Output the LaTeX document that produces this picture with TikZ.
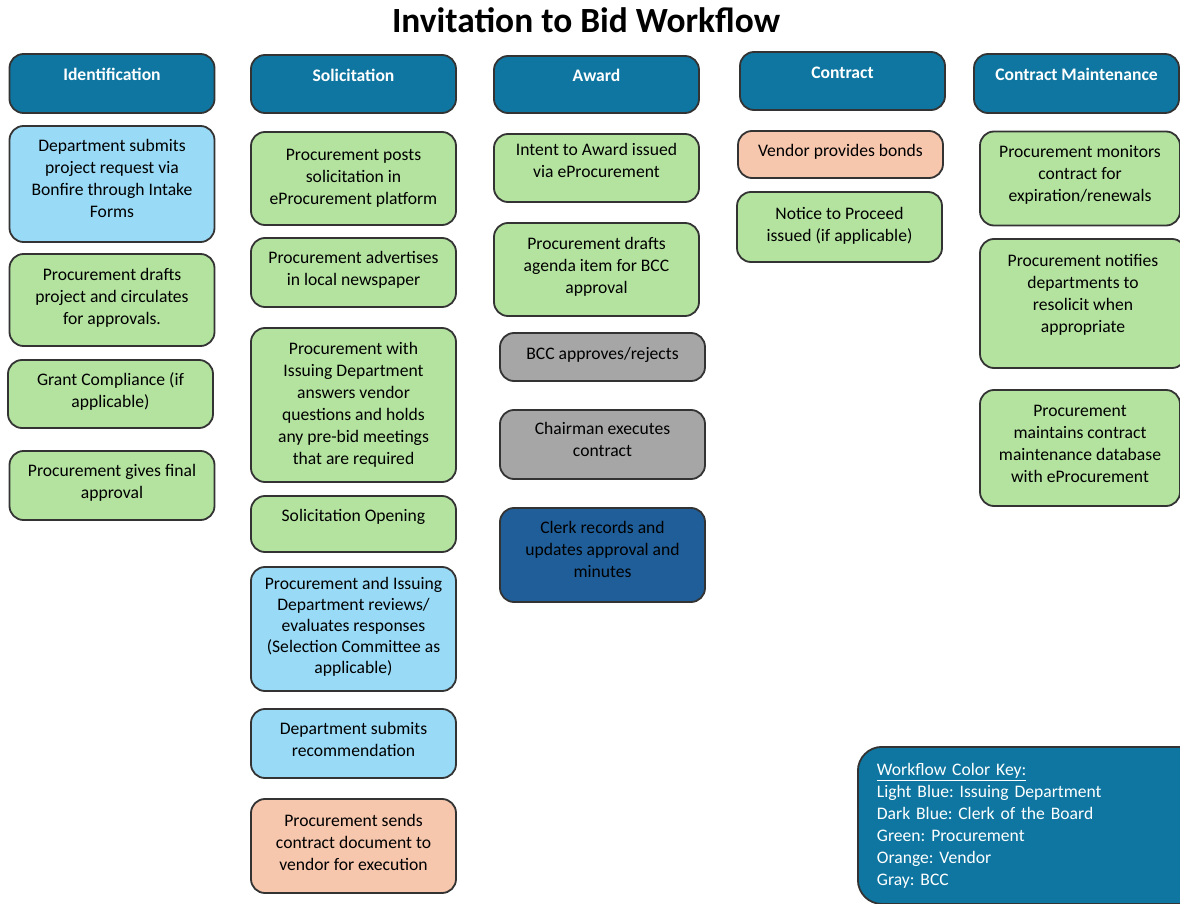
\documentclass[tikz,border=0pt]{standalone}
\usepackage{fontspec}
\setmainfont{Carlito}
\usepackage{tikz}

\definecolor{hdrblue}{RGB}{14,118,160}
\definecolor{issuing}{RGB}{153,218,246}
\definecolor{procure}{RGB}{180,227,160}
\definecolor{vendor}{RGB}{246,198,173}
\definecolor{bcc}{RGB}{166,166,166}
\definecolor{clerk}{RGB}{31,94,153}
\definecolor{edge}{RGB}{51,51,51}

\tikzset{
  stepbox/.style={draw=edge, line width=0.9pt, rounded corners=7pt, minimum width=102.5pt,
    align=center, inner sep=2pt, text depth=4pt, font=\fontsize{8.8}{11}\selectfont},
  hdr/.style={stepbox, fill=hdrblue, text=white, font=\bfseries\fontsize{8.8}{11}\selectfont,
    text height=6.5pt, text depth=9pt},
  keybox/.style={draw=edge, line width=0.9pt, rounded corners=12pt, fill=hdrblue, text=white,
    align=left, font=\fontsize{8.8}{11}\selectfont\frenchspacing},
}

\begin{document}
\begin{tikzpicture}[x=0.5pt, y=-0.5pt]
    \useasboundingbox (0,0) rectangle (1180,904);
    \clip (0,0) rectangle (1180,904);

    \node[font=\bfseries\fontsize{17.7}{20}\selectfont] (title) at (586,20) {Invitation to Bid Workflow};

    % identification
    \node[hdr, minimum height=29.5pt] (idh) at (112,83.5) {Identification};
    \node[stepbox, fill=issuing, minimum height=58pt, text depth=6pt] (id1) at (112,184) {Department submits\\project request via\\Bonfire through Intake\\Forms};
    \node[stepbox, fill=procure, minimum height=46pt] (id2) at (112,300) {Procurement drafts\\project and circulates\\for approvals.};
    \node[stepbox, fill=procure, minimum height=34pt] (id3) at (110.5,394) {Grant Compliance (if\\applicable)};
    \node[stepbox, fill=procure, minimum height=34.5pt] (id4) at (112,485.5) {Procurement gives final\\approval};

    % solicitation
    \node[hdr, minimum height=29pt] (soh) at (353.5,84) {Solicitation};
    \node[stepbox, fill=procure, minimum height=46.5pt, text depth=2pt] (so1) at (353.5,178.5) {Procurement posts\\solicitation in\\eProcurement platform};
    \node[stepbox, fill=procure, minimum height=34.5pt] (so2) at (353.5,272.5) {Procurement advertises\\in local newspaper};
    \node[stepbox, fill=procure, minimum height=77pt, text depth=2pt] (so3) at (353.5,405) {Procurement with\\Issuing Department\\answers vendor\\questions and holds\\any pre-bid meetings\\that are required};
    \node[stepbox, fill=procure, minimum height=28pt, text height=6.5pt, text depth=9pt] (so4) at (353.5,524) {Solicitation Opening};
    \node[stepbox, fill=issuing, minimum height=62pt, font=\fontsize{8.8}{10.5}\selectfont] (so5) at (353.5,629) {Procurement and Issuing\\Department reviews/\\evaluates responses\\(Selection Committee as\\applicable)};
    \node[stepbox, fill=issuing, minimum height=34.5pt] (so6) at (353.5,743.5) {Department submits\\recommendation};
    \node[stepbox, fill=vendor, minimum height=47pt] (so7) at (353.5,846) {Procurement sends\\contract document to\\vendor for execution};

    % award
    \node[hdr, minimum height=28.5pt] (awh) at (596.5,84.5) {Award};
    \node[stepbox, fill=procure, minimum height=34pt, text depth=7.5pt] (aw1) at (596.5,168) {Intent to Award issued\\via eProcurement};
    \node[stepbox, fill=procure, minimum height=46.5pt] (aw2) at (596.5,269.5) {Procurement drafts\\agenda item for BCC\\approval};
    \node[stepbox, fill=bcc, minimum height=24pt] (aw3) at (602.5,357) {BCC approves/rejects};
    \node[stepbox, fill=bcc, minimum height=34.5pt, text depth=5.5pt] (aw4) at (602.5,444.5) {Chairman executes\\contract};
    \node[stepbox, fill=clerk, minimum height=47pt, text depth=5.5pt] (aw5) at (602.5,555) {Clerk records and\\updates approval and\\minutes};

    % contract
    \node[hdr, minimum height=29pt] (coh) at (842.5,81) {Contract};
    \node[stepbox, fill=vendor, minimum height=23.5pt] (co1) at (840.5,154.5) {Vendor provides bonds};
    \node[stepbox, fill=procure, minimum height=35pt, text depth=3pt] (co2) at (839.5,227) {Notice to Proceed\\issued (if applicable)};

    % contract maintenance
    \node[hdr, minimum height=29.5pt] (cmh) at (1076.5,83.5) {Contract Maintenance};
    \node[stepbox, fill=procure, minimum width=100pt, minimum height=47pt, text depth=5pt] (cm1) at (1080,178.5) {Procurement monitors\\contract for\\expiration/renewals};
    \node[stepbox, fill=procure, minimum width=103pt, minimum height=64.5pt, text depth=10pt] (cm2) at (1083,303.5) {Procurement notifies\\departments to\\resolicit when\\appropriate};
    \node[stepbox, fill=procure, minimum width=100pt, minimum height=58pt] (cm3) at (1080,448) {Procurement\\maintains contract\\maintenance database\\with eProcurement};

    % color key
    \node[keybox, anchor=north west, text width=160pt, inner xsep=9.5pt, inner ysep=8pt] (key) at (857,746)
        {\underline{Workflow Color Key:}\\Light Blue: Issuing Department\\Dark Blue: Clerk of the Board\\Green: Procurement\\Orange: Vendor\\Gray: BCC};
\end{tikzpicture}
\end{document}
